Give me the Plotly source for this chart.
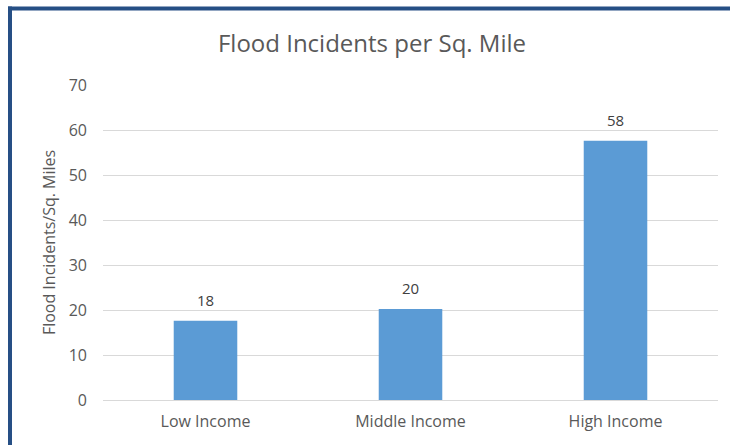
import plotly.graph_objects as go

categories = ["Low Income", "Middle Income", "High Income"]
incidents_per_sq_mile = [17.6, 20.2, 57.6]
y_ticks = [0, 10, 20, 30, 40, 50, 60, 70]

W, H = 730, 445
L, R, T, B = 103, 12, 85, 45
pw, ph = W - L - R, H - T - B
FONT = "Open Sans, Lato, sans-serif"

def px_x(x):
    return (x - L) / pw

def px_y(y):
    return 1 - (y - T) / ph

fig = go.Figure()
fig.add_trace(go.Bar(
    x=categories,
    y=incidents_per_sq_mile,
    marker=dict(color="#5B9BD5", line=dict(width=0)),
    hoverinfo="x+y",
))

# value labels above each bar
for c, v in zip(categories, incidents_per_sq_mile):
    fig.add_annotation(
        x=c, y=v, text=f"{v:.0f}", showarrow=False,
        yanchor="bottom", yshift=9,
        font=dict(family=FONT, size=15, color="#404040"),
    )

# dark blue frame along the top and left edges
frame_color = "#264F85"
fig.add_shape(type="line", xref="paper", yref="paper",
              x0=px_x(8), x1=px_x(735), y0=px_y(8.5), y1=px_y(8.5),
              line=dict(color=frame_color, width=4))
fig.add_shape(type="line", xref="paper", yref="paper",
              x0=px_x(10), x1=px_x(10), y0=px_y(6.5), y1=px_y(450),
              line=dict(color=frame_color, width=4))

fig.update_layout(
    width=W, height=H,
    margin=dict(l=L, r=R, t=T, b=B),
    paper_bgcolor="white", plot_bgcolor="white",
    bargap=0.69,
    showlegend=False,
    title=dict(
        text="Flood Incidents per Sq. Mile",
        x=px_x(372), xanchor="center", xref="paper",
        y=1 - 44 / H, yanchor="middle",
        font=dict(family=FONT, size=24, color="#595959"),
    ),
    font=dict(family=FONT, size=16, color="#595959"),
)
fig.update_xaxes(
    showgrid=False, showline=True, linecolor="#D9D9D9", linewidth=1,
    ticks="", tickfont=dict(size=16, color="#595959"), ticklabelstandoff=7,
)
fig.update_yaxes(
    range=[0, 70], tickvals=y_ticks, showgrid=True, gridcolor="#D9D9D9",
    gridwidth=1, zeroline=False, showline=False, ticks="",
    ticklabelstandoff=15,
    tickfont=dict(size=16, color="#595959"),
    title=dict(text="Flood Incidents/Sq. Miles", standoff=9,
               font=dict(size=16, color="#595959")),
)

fig.write_html("out.html")
